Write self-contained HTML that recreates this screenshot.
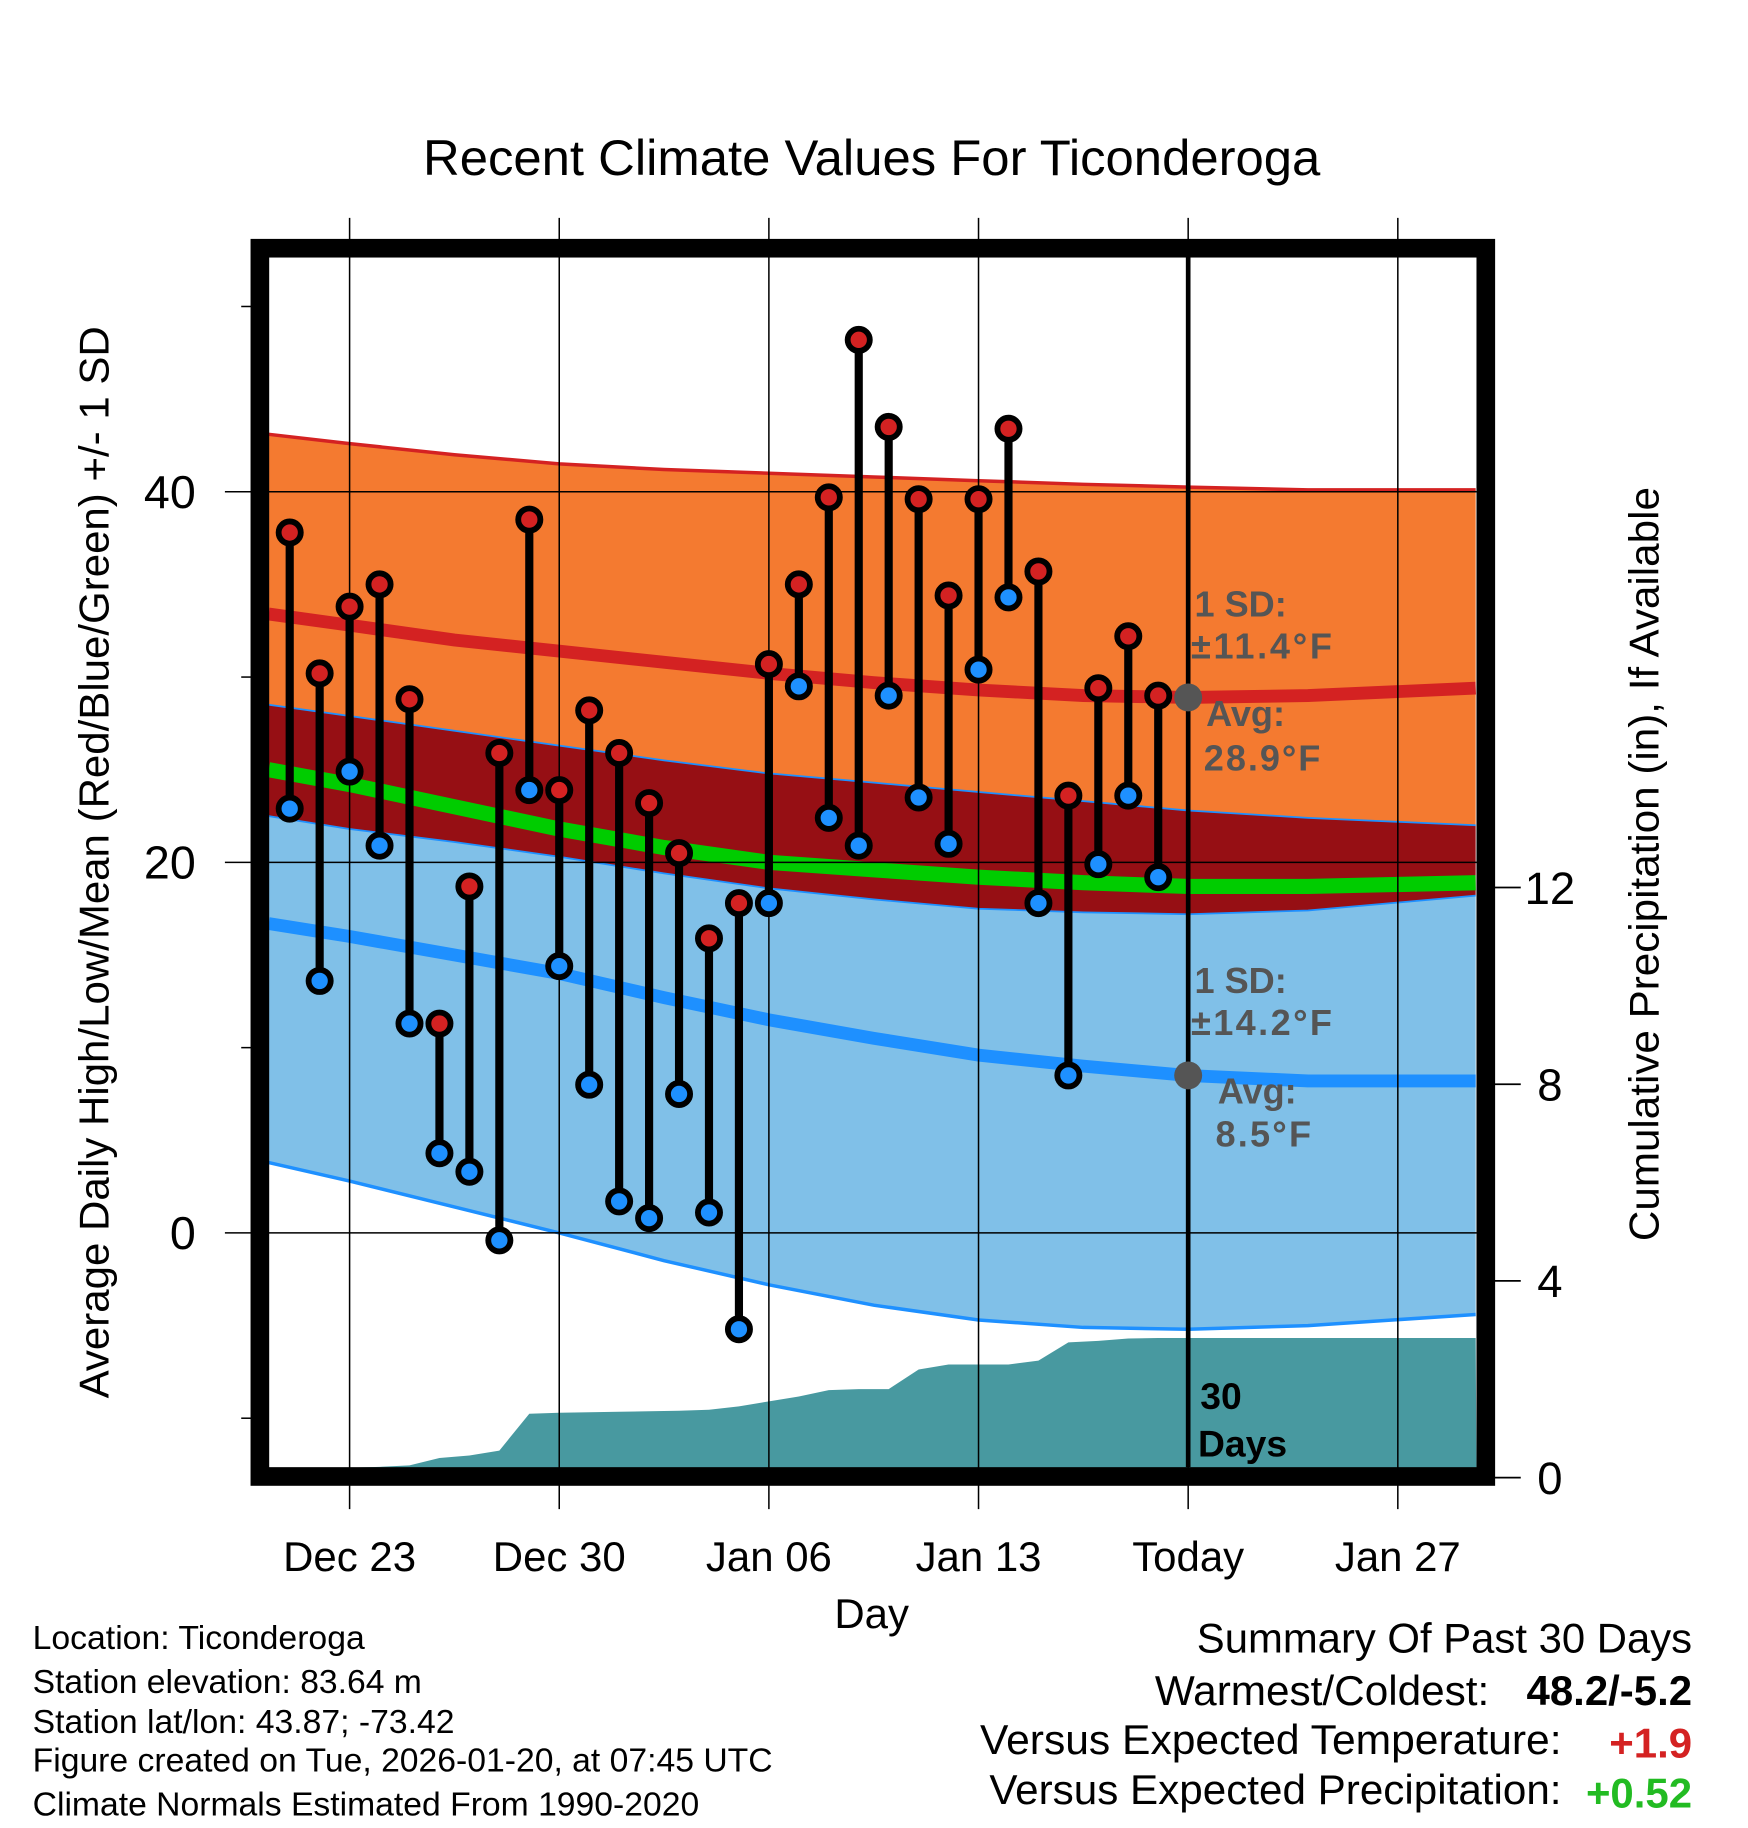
<!DOCTYPE html>
<html><head><meta charset="utf-8"><style>html,body{margin:0;padding:0;background:#fff}svg{display:block}</style></head>
<body>
<svg id="chart" width="1748" height="1828" viewBox="0 0 1500 1568.65" preserveAspectRatio="none" xmlns="http://www.w3.org/2000/svg" font-family="Liberation Sans, Arial, sans-serif">
<g id="bands"></g><g id="grid"></g><g id="marks"></g><g id="frame"></g><g id="labels"></g>
</svg>
<script>
// ---- data ----
const days = [-2,-1,0,1,2,3,4,5,6,7,8,9,10,11,12,13,14,15,16,17,18,19,20,21,22,23,24,25,26,27];
const highs = [37.8,30.2,33.8,35.0,28.8,11.3,18.7,25.9,38.5,23.9,28.2,25.9,23.2,20.5,15.9,17.8,30.7,35.0,39.7,48.2,43.5,39.6,34.4,39.6,43.4,35.7,23.6,29.4,32.2,29.0];
const lows = [22.9,13.6,24.9,20.9,11.3,4.3,3.3,-0.4,23.9,14.4,8.0,1.7,0.8,7.5,1.1,-5.2,17.8,29.5,22.4,20.9,29.0,23.5,21.0,30.4,34.3,17.8,8.5,19.9,23.6,19.2];
const normDays = [-2.7,0,3.5,7,10.5,14,17.5,21,24.5,28,32,37.6];
const hiPlus = [43.1,42.6,42.0,41.5,41.2,41.0,40.8,40.6,40.4,40.25,40.1,40.1];
const hiMean = [33.4,32.8,32.0,31.4,30.8,30.2,29.7,29.3,29.0,28.9,29.0,29.4];
const hiMinus = [28.5,27.9,27.1,26.3,25.5,24.8,24.3,23.8,23.3,22.8,22.4,22.0];
const meanT = [25.0,24.2,23.0,21.8,20.8,20.0,19.6,19.2,18.9,18.7,18.7,18.9];
const loPlus = [22.5,21.8,21.1,20.3,19.4,18.6,18.0,17.5,17.3,17.2,17.4,18.2];
const loMean = [16.7,16.0,15.0,14.0,12.7,11.5,10.5,9.6,9.0,8.5,8.2,8.2];
const loMinus = [3.8,2.8,1.4,0,-1.5,-2.8,-3.9,-4.7,-5.1,-5.2,-5.0,-4.4];
const precipDays = [0,1,2,3,4,5,6,7,8,9,10,11,12,13,14,15,16,17,18,19,20,21,22,23,24,25,26,27,28,37.6];
const precip = [0.2,0.22,0.25,0.4,0.45,0.55,1.3,1.32,1.33,1.34,1.35,1.36,1.38,1.45,1.55,1.65,1.78,1.8,1.8,2.2,2.3,2.3,2.3,2.38,2.75,2.78,2.83,2.84,2.84,2.84];
const xTickDays = [0,7,14,21,28,35];
const xTickLabels = ["Dec 23","Dec 30","Jan 06","Jan 13","Today","Jan 27"];
const yTicks = [0,20,40];
const yMinor = [-10,10,30,50];
const pTicks = [0,4,8,12];
// ---- scales ----
const X = d => 300 + 25.7*d;
const Y = t => 1058 - 15.9*t;
const P = p => 1268 - 42.2*p;
const NS = "http://www.w3.org/2000/svg";
function mk(tag, parent, attrs){const e=document.createElementNS(NS,tag);for(const k in attrs)e.setAttribute(k,attrs[k]);parent.appendChild(e);return e;}
function line(arr){return normDays.map((d,i)=>X(d).toFixed(1)+","+Y(arr[i]).toFixed(1));}
function band(a,b){return "M"+line(a).join("L")+"L"+line(b).reverse().join("L")+"Z";}
const bands=document.getElementById("bands"),grid=document.getElementById("grid"),marks=document.getElementById("marks"),frame=document.getElementById("frame"),labels=document.getElementById("labels");
let e;
e=mk("path",bands,{d:band(hiPlus,hiMinus),fill:"#f47a30"});

e=mk("path",bands,{d:band(hiMinus,loPlus),fill:"#960f14"});

e=mk("path",bands,{d:band(loPlus,loMinus),fill:"#80c0e8"});

e=mk("path",bands,{d:"M"+line(hiPlus).join("L"),fill:"none",stroke:"#d42222","stroke-width":3});

e=mk("path",bands,{d:"M"+line(hiMinus).join("L"),fill:"none",stroke:"#1e90ff","stroke-width":1.5});

e=mk("path",bands,{d:"M"+line(loPlus).join("L"),fill:"none",stroke:"#1e90ff","stroke-width":1.5});

e=mk("path",bands,{d:"M"+line(loMinus).join("L"),fill:"none",stroke:"#1e90ff","stroke-width":3});

e=mk("path",bands,{d:"M"+line(meanT).join("L"),fill:"none",stroke:"#00cc00","stroke-width":13});

e=mk("path",bands,{d:"M"+line(hiMean).join("L"),fill:"none",stroke:"#d42222","stroke-width":11});

e=mk("path",bands,{d:"M"+line(loMean).join("L"),fill:"none",stroke:"#1e90ff","stroke-width":11});

// precip area
let pd="M"+X(precipDays[0])+","+P(0);
precipDays.forEach((d,i)=>{pd+="L"+Math.min(X(d),1267)+","+P(precip[i]);});
pd+="L1267,"+P(0)+"Z";
e=mk("path",bands,{d:pd,fill:"#4899a0"});

// grid
xTickDays.forEach((d,i)=>{
  e=mk("line",grid,{x1:X(d),x2:X(d),y1:187,y2:1295,stroke:"#000","stroke-width":1.3});
  
  e=mk("text",labels,{x:X(d),y:1348,"text-anchor":"middle","font-size":36});
  e.textContent=xTickLabels[i];
  
});
yTicks.forEach(t=>{
  e=mk("line",grid,{x1:193,x2:1267,y1:Y(t),y2:Y(t),stroke:"#000","stroke-width":1.3});
  
  e=mk("text",labels,{x:168,y:Y(t)+14,"text-anchor":"end","font-size":40});
  e.textContent=t;
  
});
yMinor.forEach(t=>{
  e=mk("line",grid,{x1:207,x2:220,y1:Y(t),y2:Y(t),stroke:"#000","stroke-width":1.3});
  
});
pTicks.forEach(p=>{
  e=mk("line",grid,{x1:1280,x2:1305,y1:P(p),y2:P(p),stroke:"#000","stroke-width":1.5});
  
  e=mk("text",labels,{x:1330,y:P(p)+14,"text-anchor":"middle","font-size":39});
  e.textContent=p;
  
});
// today line
e=mk("line",grid,{x1:X(28),x2:X(28),y1:221,y2:1259,stroke:"#000","stroke-width":4});

e=mk("circle",grid,{cx:X(28),cy:Y(28.9),r:12,fill:"#555"});

e=mk("circle",grid,{cx:X(28),cy:Y(8.5),r:12,fill:"#555"});

// stems & markers
days.forEach((d,i)=>{
  e=mk("line",marks,{x1:X(d),x2:X(d),y1:Y(highs[i]),y2:Y(lows[i]),stroke:"#000","stroke-width":7});
  
});
days.forEach((d,i)=>{
  e=mk("circle",marks,{cx:X(d),cy:Y(highs[i]),r:9.5,fill:"#d42222",stroke:"#000","stroke-width":5});
  
  e=mk("circle",marks,{cx:X(d),cy:Y(lows[i]),r:9.5,fill:"#1e90ff",stroke:"#000","stroke-width":5});
  
});
// frame
e=mk("rect",frame,{x:223,y:213,width:1052,height:1054,fill:"none",stroke:"#000","stroke-width":16});

</script>
<script>
(function(){
const NS="http://www.w3.org/2000/svg";const L=document.getElementById("labels");
function t(x,y,s,txt,extra){const e=document.createElementNS(NS,"text");e.setAttribute("x",x);e.setAttribute("y",y);e.setAttribute("font-size",s);for(const k in (extra||{}))e.setAttribute(k,extra[k]);e.textContent=txt;L.appendChild(e);return e;}
let e;
e=t(363,150,43,"Recent Climate Values For Ticonderoga",{textLength:770,lengthAdjust:"spacingAndGlyphs"});

e=t(748,1397,36,"Day",{"text-anchor":"middle"});

e=t(-1200,0,36,"Average Daily High/Low/Mean (Red/Blue/Green) +/- 1 SD",{transform:"translate(93,0) rotate(-90)",textLength:920,lengthAdjust:"spacingAndGlyphs"});

e=t(-1065,0,36,"Cumulative Precipitation (in), If Available",{transform:"translate(1423,0) rotate(-90)",textLength:647,lengthAdjust:"spacingAndGlyphs"});

const g={fill:"#555","font-weight":"bold"};
e=t(1025,529,31,"1 SD:",g);
e=t(1022,565,31,"±11.4°F",Object.assign({textLength:121},g));
e=t(1035,623,31,"Avg:",g);
e=t(1033,661,31,"28.9°F",Object.assign({textLength:100},g));
e=t(1025,852,31,"1 SD:",g);
e=t(1022,888,31,"±14.2°F",Object.assign({textLength:121},g));
e=t(1045,947,31,"Avg:",g);
e=t(1043,984,31,"8.5°F",Object.assign({textLength:82},g));
const b={fill:"#000","font-weight":"bold"};
e=t(1030,1209,32,"30",b);
e=t(1028,1250,32,"Days",b);
const info=[["Location: Ticonderoga",1415,285],["Station elevation: 83.64 m",1453,334],["Station lat/lon: 43.87; -73.42",1487,362],["Figure created on Tue, 2026-01-20, at 07:45 UTC",1520,635],["Climate Normals Estimated From 1990-2020",1558,572]];
info.forEach(a=>{e=t(28,a[1],29,a[0],{textLength:a[2],lengthAdjust:"spacingAndGlyphs"});});
const r={"text-anchor":"end"};
e=t(1452,1418,36,"Summary Of Past 30 Days",{"text-anchor":"end",textLength:425,lengthAdjust:"spacingAndGlyphs"});
e=t(1278,1463,36,"Warmest/Coldest:",{"text-anchor":"end",textLength:287,lengthAdjust:"spacingAndGlyphs"});
e=t(1452,1463,36,"48.2/-5.2",{"text-anchor":"end","font-weight":"bold"});
e=t(1340,1505,36,"Versus Expected Temperature:",{"text-anchor":"end",textLength:499,lengthAdjust:"spacingAndGlyphs"});
e=t(1452,1508,36,"+1.9",{"text-anchor":"end","font-weight":"bold",fill:"#d42222"});
e=t(1340,1548,36,"Versus Expected Precipitation:",{"text-anchor":"end",textLength:491,lengthAdjust:"spacingAndGlyphs"});
e=t(1452,1551,36,"+0.52",{"text-anchor":"end","font-weight":"bold",fill:"#22bb22"});
})();
</script>
</body></html>
